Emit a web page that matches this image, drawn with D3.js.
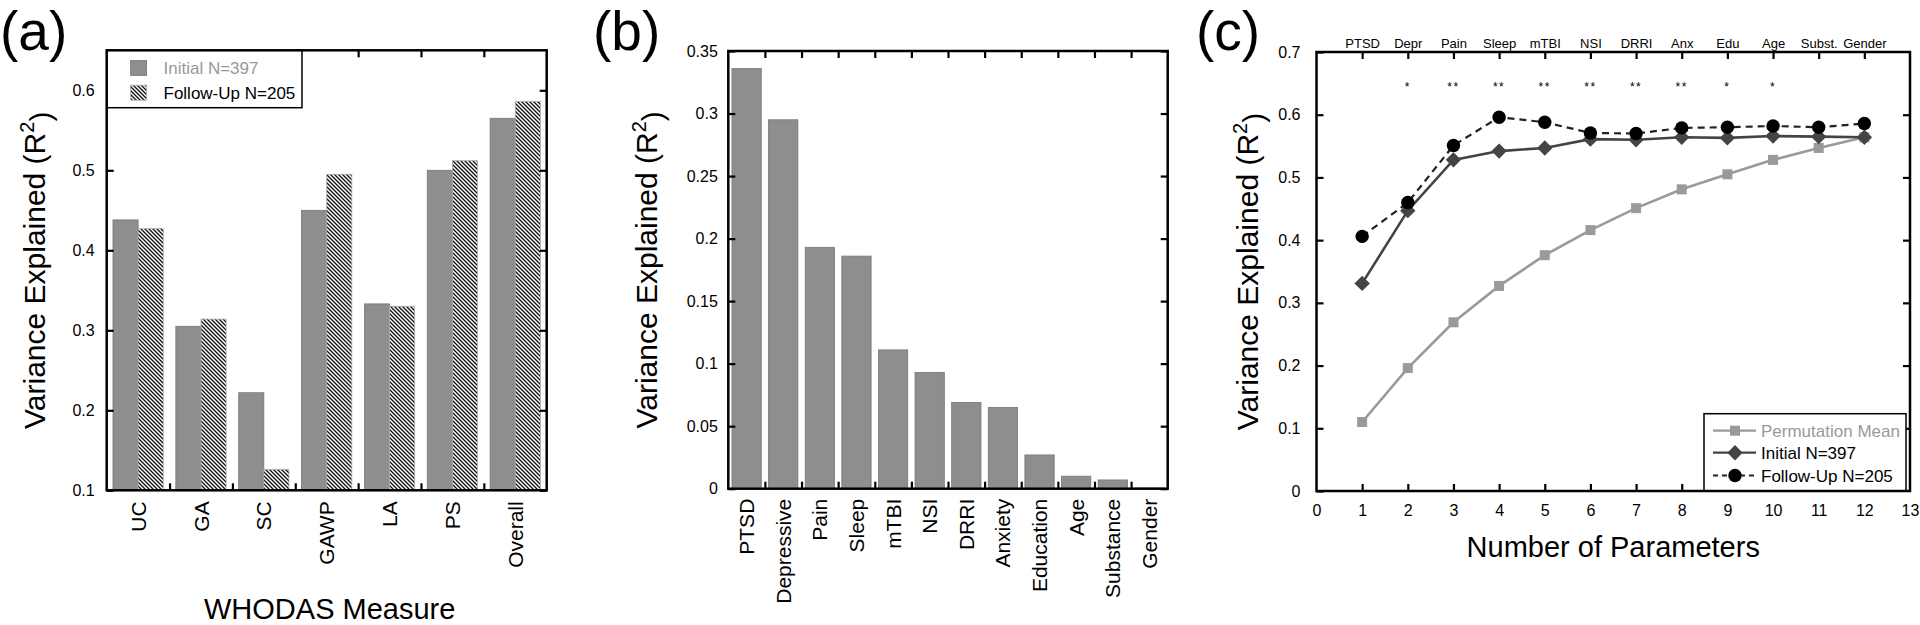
<!DOCTYPE html>
<html><head><meta charset="utf-8">
<script src="https://cdn.jsdelivr.net/npm/d3@7"></script>
<style>
body{margin:0;background:#fff}
svg{display:block}
text{font-family:"Liberation Sans",Arial,Helvetica,sans-serif;fill:#000}
</style>
</head><body>
<svg id="chart" width="1920" height="625"></svg>
<script>
// ---------- Panel (a) data ----------
const measures = ["UC","GA","SC","GAWP","LA","PS","Overall"];
const initialR2 = [0.438,0.305,0.222,0.450,0.333,0.500,0.565];
const followR2  = [0.427,0.314,0.126,0.495,0.330,0.512,0.586];
const aYTicks = [0.1,0.2,0.3,0.4,0.5,0.6];
const aLegend = ["Initial N=397","Follow-Up N=205"];

// ---------- Panel (b) data ----------
const predictors = ["PTSD","Depressive","Pain","Sleep","mTBI","NSI","DRRI","Anxiety","Education","Age","Substance","Gender"];
const predictorR2 = [0.336,0.295,0.193,0.186,0.111,0.093,0.069,0.065,0.027,0.010,0.007,0.0006];
const bYTicks = [0,0.05,0.1,0.15,0.2,0.25,0.3,0.35];

// ---------- Panel (c) data ----------
const nParams = [1,2,3,4,5,6,7,8,9,10,11,12];
const paramLabels = ["PTSD","Depr","Pain","Sleep","mTBI","NSI","DRRI","Anx","Edu","Age","Subst.","Gender"];
const significance = ["","*","**","**","**","**","**","**","*","*","",""];
const permMean   = [0.110,0.196,0.269,0.327,0.376,0.416,0.451,0.481,0.505,0.528,0.547,0.564];
const initialCum = [0.331,0.447,0.528,0.542,0.547,0.561,0.560,0.564,0.563,0.566,0.565,0.564];
const followCum  = [0.406,0.460,0.551,0.596,0.588,0.571,0.570,0.579,0.580,0.582,0.580,0.586];
const cXTicks = [0,1,2,3,4,5,6,7,8,9,10,11,12,13];
const cYTicks = [0,0.1,0.2,0.3,0.4,0.5,0.6,0.7];
const cLegend = ["Permutation Mean","Initial N=397","Follow-Up N=205"];

const svg = d3.select("#chart");
const GRAY = "#8e8e8e", GRAY_EDGE = "#777";
const TICK = 7, FRAME_W = 2.5;

// hatch pattern
const defs = svg.append("defs");
const pat = defs.append("pattern").attr("id","hatch").attr("patternUnits","userSpaceOnUse")
  .attr("width",4).attr("height",4);
pat.append("rect").attr("width",4).attr("height",4).attr("fill","#fff");
pat.append("path").attr("d","M-1,-1 L5,5 M-1,3 L1,5 M3,-1 L5,1")
  .attr("stroke","#111").attr("stroke-width",1.35);

function styleAxis(g){
  g.select(".domain").remove();
  g.selectAll(".tick line").attr("stroke","#000").attr("stroke-width",2.2);
  g.selectAll(".tick text").attr("font-family","Liberation Sans, Arial, sans-serif").attr("fill","#000");
}
function frame(x0,x1,y0,y1){
  svg.append("rect").attr("x",x0).attr("y",y0).attr("width",x1-x0).attr("height",y1-y0)
    .attr("fill","none").attr("stroke","#000").attr("stroke-width",FRAME_W);
}
function yLabel(x,y){
  const t = svg.append("text").attr("transform",`translate(${x},${y}) rotate(-90)`)
    .attr("text-anchor","middle").attr("font-size",30);
  t.append("tspan").text("Variance Explained (R");
  t.append("tspan").attr("dy","-0.55em").attr("font-size",20).text("2");
  t.append("tspan").attr("dy","0.55em").text(")");
}
function panelLabel(x,txt){
  svg.append("text").attr("x",x).attr("y",50).attr("font-size",55).text(txt);
}

// ================= Panel (a) =================
{
  const L=106.7, R=546.7, T=50.3, B=490.3;
  const x = d3.scaleBand().domain(measures).range([L,R]).paddingInner(0.2).paddingOuter(0.1);
  const xs = d3.scaleBand().domain(["i","f"]).range([0,x.bandwidth()]);
  const y = d3.scaleLinear().domain([0.1,0.65]).range([B,T]);
  const xb = d3.scaleLinear().domain([0,measures.length]).range([L,R]);

  const rows = measures.map((m,i)=>({m, i:initialR2[i], f:followR2[i]}));
  svg.append("g").selectAll("rect.i").data(rows).join("rect")
    .attr("x",d=>x(d.m)+xs("i")).attr("width",xs.bandwidth())
    .attr("y",d=>y(d.i)).attr("height",d=>y(0.1)-y(d.i))
    .attr("fill",GRAY).attr("stroke",GRAY_EDGE).attr("stroke-width",0.8);
  svg.append("g").selectAll("rect.f").data(rows).join("rect")
    .attr("x",d=>x(d.m)+xs("f")).attr("width",xs.bandwidth())
    .attr("y",d=>y(d.f)).attr("height",d=>y(0.1)-y(d.f))
    .attr("fill","url(#hatch)").attr("stroke","#aaa").attr("stroke-width",0.8);

  svg.append("g").attr("transform",`translate(${L},0)`)
    .call(d3.axisLeft(y).tickValues(aYTicks).tickSize(-TICK).tickPadding(12).tickFormat(d3.format(".1f")))
    .call(styleAxis).selectAll("text").attr("font-size",16);
  svg.append("g").attr("transform",`translate(${R},0)`)
    .call(d3.axisRight(y).tickValues(aYTicks).tickSize(-TICK).tickFormat(""))
    .call(styleAxis);
  svg.append("g").attr("transform",`translate(0,${B})`)
    .call(d3.axisBottom(xb).tickValues(d3.range(1,measures.length)).tickSize(-TICK).tickFormat(""))
    .call(styleAxis);
  svg.append("g").attr("transform",`translate(0,${T})`)
    .call(d3.axisTop(xb).tickValues(d3.range(1,measures.length)).tickSize(-TICK).tickFormat(""))
    .call(styleAxis);
  const cat = svg.append("g").attr("transform",`translate(0,${B})`)
    .call(d3.axisBottom(x).tickSize(0).tickPadding(0)).call(styleAxis);
  cat.selectAll("text").attr("font-size",21).attr("text-anchor","end")
    .attr("transform","rotate(-90)").attr("x",-11).attr("y",0).attr("dy","0.36em");

  // legend
  svg.append("rect").attr("x",L).attr("y",T).attr("width",302-L).attr("height",107.7-T)
    .attr("fill","#fff").attr("stroke","#000").attr("stroke-width",1.5);
  svg.append("rect").attr("x",130.6).attr("y",60.5).attr("width",16).attr("height",15)
    .attr("fill",GRAY).attr("stroke",GRAY_EDGE).attr("stroke-width",0.8);
  svg.append("rect").attr("x",130.6).attr("y",85.2).attr("width",16).attr("height",15)
    .attr("fill","url(#hatch)").attr("stroke","#aaa").attr("stroke-width",0.8);
  svg.append("text").attr("x",163.5).attr("y",74).attr("font-size",17)
    .style("fill","#999").text(aLegend[0]);
  svg.append("text").attr("x",163.5).attr("y",98.7).attr("font-size",17).text(aLegend[1]);

  svg.append("text").attr("x",(L+R)/2+3).attr("y",619).attr("text-anchor","middle")
    .attr("font-size",29).text("WHODAS Measure");
  frame(L,R,T,B);
  yLabel(45,(T+B)/2);
  panelLabel(0,"(a)");
}

// ================= Panel (b) =================
{
  const L=728.3, R=1167.7, T=51, B=488.7;
  const x = d3.scaleBand().domain(predictors).range([L,R]).paddingInner(0.2).paddingOuter(0.1);
  const y = d3.scaleLinear().domain([0,0.35]).range([B,T]);
  const xb = d3.scaleLinear().domain([0,predictors.length]).range([L,R]);
  const rows = predictors.map((p,i)=>({p, v:predictorR2[i]}));
  svg.append("g").selectAll("rect").data(rows).join("rect")
    .attr("x",d=>x(d.p)).attr("width",x.bandwidth())
    .attr("y",d=>y(d.v)).attr("height",d=>y(0)-y(d.v))
    .attr("fill",GRAY).attr("stroke",GRAY_EDGE).attr("stroke-width",0.8);

  svg.append("g").attr("transform",`translate(${L},0)`)
    .call(d3.axisLeft(y).tickValues(bYTicks).tickSize(-TICK).tickPadding(10.5).tickFormat(d=>d3.format("")(+d.toFixed(2))))
    .call(styleAxis).selectAll("text").attr("font-size",16);
  svg.append("g").attr("transform",`translate(${R},0)`)
    .call(d3.axisRight(y).tickValues(bYTicks).tickSize(-TICK).tickFormat(""))
    .call(styleAxis);
  svg.append("g").attr("transform",`translate(0,${B})`)
    .call(d3.axisBottom(xb).tickValues(d3.range(1,predictors.length)).tickSize(-TICK).tickFormat(""))
    .call(styleAxis);
  svg.append("g").attr("transform",`translate(0,${T})`)
    .call(d3.axisTop(xb).tickValues(d3.range(1,predictors.length)).tickSize(-TICK).tickFormat(""))
    .call(styleAxis);
  const cat = svg.append("g").attr("transform",`translate(0,${B})`)
    .call(d3.axisBottom(x).tickSize(0).tickPadding(0)).call(styleAxis);
  cat.selectAll("text").attr("font-size",21).attr("text-anchor","end")
    .attr("transform","rotate(-90)").attr("x",-10).attr("y",0).attr("dy","0.36em");
  frame(L,R,T,B);
  yLabel(657,(T+B)/2);
  panelLabel(593,"(b)");
}

// ================= Panel (c) =================
{
  const L=1316.5, R=1910, T=52, B=491;
  const x = d3.scaleLinear().domain([0,13]).range([L,R]);
  const y = d3.scaleLinear().domain([0,0.7]).range([B,T]);

  svg.append("g").attr("transform",`translate(${L},0)`)
    .call(d3.axisLeft(y).tickValues(cYTicks).tickSize(-TICK).tickPadding(16).tickFormat(d=>d3.format("")(+d.toFixed(1))))
    .call(styleAxis).selectAll("text").attr("font-size",16);
  svg.append("g").attr("transform",`translate(${R},0)`)
    .call(d3.axisRight(y).tickValues(cYTicks.slice(1,-1)).tickSize(-TICK).tickFormat(""))
    .call(styleAxis);
  svg.append("g").attr("transform",`translate(0,${B})`)
    .call(d3.axisBottom(x).tickValues(cXTicks).tickSize(-TICK).tickPadding(14).tickFormat(d3.format("d")))
    .call(styleAxis).call(g=>g.selectAll(".tick").filter(d=>d===0||d===13).select("line").remove())
    .selectAll("text").attr("font-size",16);
  svg.append("g").attr("transform",`translate(0,${T})`)
    .call(d3.axisTop(x).tickValues(nParams).tickSize(-TICK).tickFormat((d,i)=>paramLabels[i]))
    .call(styleAxis).selectAll("text").attr("font-size",13).attr("y",-4.5).attr("dy",0);

  // significance stars
  svg.append("g").selectAll("text").data(nParams).join("text")
    .attr("x",d=>x(d)).attr("y",y(0.65)+7.5).attr("text-anchor","middle").attr("font-size",12)
    .attr("letter-spacing",1.5).text((d,i)=>significance[i]);

  const line = d3.line().x((d,i)=>x(nParams[i])).y(d=>y(d));
  svg.append("path").attr("d",line(permMean)).attr("fill","none").attr("stroke","#9a9a9a").attr("stroke-width",2.6);
  svg.append("path").attr("d",line(followCum)).attr("fill","none").attr("stroke","#222").attr("stroke-width",2.2).attr("stroke-dasharray","7,5");
  svg.append("path").attr("d",line(initialCum)).attr("fill","none").attr("stroke","#444").attr("stroke-width",2.6);

  const sq = d3.symbol().type(d3.symbolSquare).size(100)();
  const dm = d3.symbol().type(d3.symbolSquare).size(118)();
  svg.append("g").selectAll("path").data(permMean).join("path")
    .attr("d",sq).attr("transform",(d,i)=>`translate(${x(nParams[i])},${y(d)})`).attr("fill","#9a9a9a");
  svg.append("g").selectAll("path").data(initialCum).join("path")
    .attr("d",dm).attr("transform",(d,i)=>`translate(${x(nParams[i])},${y(d)}) rotate(45)`).attr("fill","#444");
  svg.append("g").selectAll("circle").data(followCum).join("circle")
    .attr("cx",(d,i)=>x(nParams[i])).attr("cy",d=>y(d)).attr("r",6.7).attr("fill","#000");

  // legend
  const lx0=1704, lx1=1906, ly0=413.7;
  svg.append("rect").attr("x",lx0).attr("y",ly0).attr("width",lx1-lx0).attr("height",B-ly0)
    .attr("fill","#fff").attr("stroke","#000").attr("stroke-width",1.5);
  const rowsY=[430.7,452.7,475.5];
  const lg = svg.append("g");
  lg.append("line").attr("x1",1713).attr("x2",1756).attr("y1",rowsY[0]).attr("y2",rowsY[0]).attr("stroke","#9a9a9a").attr("stroke-width",2.2);
  lg.append("path").attr("d",sq).attr("transform",`translate(1735,${rowsY[0]})`).attr("fill","#9a9a9a");
  lg.append("line").attr("x1",1713).attr("x2",1756).attr("y1",rowsY[1]).attr("y2",rowsY[1]).attr("stroke","#444").attr("stroke-width",2.2);
  lg.append("path").attr("d",dm).attr("transform",`translate(1735,${rowsY[1]}) rotate(45)`).attr("fill","#444");
  lg.append("line").attr("x1",1713).attr("x2",1756).attr("y1",rowsY[2]).attr("y2",rowsY[2]).attr("stroke","#222").attr("stroke-width",1.8).attr("stroke-dasharray","5,4");
  lg.append("circle").attr("cx",1735).attr("cy",rowsY[2]).attr("r",6.7).attr("fill","#000");
  lg.selectAll("text").data(cLegend).join("text")
    .attr("x",1761).attr("y",(d,i)=>rowsY[i]+6).attr("font-size",17)
    .style("fill",(d,i)=>i===0?"#999":"#000").text(d=>d);

  svg.append("text").attr("x",(L+R)/2).attr("y",556.7).attr("text-anchor","middle")
    .attr("font-size",29).text("Number of Parameters");
  frame(L,R,T,B);
  yLabel(1258,(T+B)/2);
  panelLabel(1196,"(c)");
}
</script>
</body></html>
